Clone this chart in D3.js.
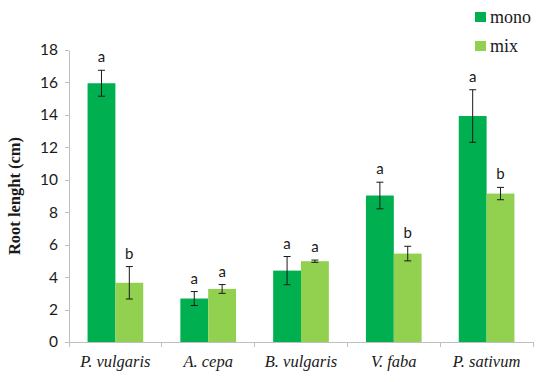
<!DOCTYPE html>
<html>
<head>
<meta charset="utf-8">
<script src="https://cdn.jsdelivr.net/npm/d3@7"></script>
<style>
  body { margin: 0; background: #fff; }
  svg { display: block; }
</style>
</head>
<body>
<div id="chart"></div>
<script>
// data
var species = ['P. vulgaris', 'A. cepa', 'B. vulgaris', 'V. faba', 'P. sativum'];
var monoValues = [15.95, 2.68, 4.4, 9.03, 13.93];
var monoErrors = [0.8, 0.43, 0.87, 0.82, 1.62];
var monoLetters = ['a', 'a', 'a', 'a', 'a'];
var mixValues = [3.65, 3.27, 4.98, 5.45, 9.15];
var mixErrors = [1.0, 0.27, 0.07, 0.45, 0.38];
var mixLetters = ['b', 'a', 'a', 'b', 'b'];
var yTicks = [0, 2, 4, 6, 8, 10, 12, 14, 16, 18];

var series = [
  { name: 'mono', color: '#00b050', values: monoValues, errors: monoErrors, letters: monoLetters },
  { name: 'mix', color: '#92d050', values: mixValues, errors: mixErrors, letters: mixLetters }
];

var width = 550, height = 382;
var margin = { top: 50, right: 17, bottom: 40, left: 69 };
var innerW = width - margin.left - margin.right;
var innerH = height - margin.top - margin.bottom;

var svg = d3.select('#chart').append('svg')
  .attr('width', width)
  .attr('height', height);

var g = svg.append('g')
  .attr('transform', 'translate(' + margin.left + ',' + margin.top + ')');

var x = d3.scaleBand()
  .domain(species)
  .range([0, innerW])
  .paddingInner(0.4)
  .paddingOuter(0.2);

var xInner = d3.scaleBand()
  .domain(series.map(function (s) { return s.name; }))
  .range([0, x.bandwidth()]);

var y = d3.scaleLinear()
  .domain([0, 18])
  .range([innerH, 0]);

var axisColor = '#bfbfbf';

// y axis
var gy = g.append('g')
  .call(d3.axisLeft(y).tickValues(yTicks).tickSizeInner(4).tickSizeOuter(0).tickPadding(7));
gy.selectAll('line, path').attr('stroke', axisColor).attr('shape-rendering', 'crispEdges');
gy.selectAll('text')
  .style('font-family', 'Lato, "Open Sans", sans-serif')
  .style('font-size', '15.5px')
  .attr('fill', '#1a1a1a');

// x axis: ticks at band boundaries
var step = x.step();
var boundaries = d3.range(species.length + 1).map(function (i) { return i * step; });
var gx = g.append('g').attr('transform', 'translate(0,' + innerH + ')');
gx.append('line')
  .attr('x1', 0).attr('x2', innerW)
  .attr('stroke', axisColor).attr('shape-rendering', 'crispEdges');
gx.selectAll('.tk').data(boundaries).enter().append('line')
  .attr('class', 'tk')
  .attr('x1', function (d) { return d; }).attr('x2', function (d) { return d; })
  .attr('y1', 0).attr('y2', 5)
  .attr('stroke', axisColor).attr('shape-rendering', 'crispEdges');
gx.selectAll('.lbl').data(species).enter().append('text')
  .attr('class', 'lbl')
  .attr('x', function (d) { return x(d) + x.bandwidth() / 2; })
  .attr('y', 25)
  .attr('text-anchor', 'middle')
  .style('font-family', '"Liberation Serif", serif')
  .style('font-style', 'italic')
  .style('font-size', '16.5px')
  .attr('fill', '#1a1a1a')
  .text(function (d) { return d; });

// y label
g.append('text')
  .attr('transform', 'translate(' + (14 - margin.left) + ',' + (innerH / 2) + ') rotate(-90)')
  .attr('text-anchor', 'middle')
  .attr('dy', '0.35em')
  .style('font-family', '"Liberation Serif", serif')
  .style('font-weight', 'bold')
  .style('font-size', '16.5px')
  .attr('fill', '#1a1a1a')
  .text('Root lenght (cm)');

// bars
series.forEach(function (s) {
  var grp = g.append('g');
  var items = species.map(function (sp, i) {
    return { sp: sp, v: s.values[i], e: s.errors[i], l: s.letters[i] };
  });
  var cx = function (d) { return x(d.sp) + xInner(s.name) + xInner.bandwidth() / 2; };

  grp.selectAll('rect').data(items).enter().append('rect')
    .attr('x', function (d) { return x(d.sp) + xInner(s.name); })
    .attr('y', function (d) { return y(d.v); })
    .attr('width', xInner.bandwidth())
    .attr('height', function (d) { return innerH - y(d.v); })
    .attr('fill', s.color);

  var err = grp.selectAll('.err').data(items).enter().append('g')
    .attr('class', 'err')
    .attr('stroke', '#1a1a1a')
    .attr('stroke-width', 1);
  err.append('line')
    .attr('x1', cx).attr('x2', cx)
    .attr('y1', function (d) { return y(d.v + d.e); })
    .attr('y2', function (d) { return y(d.v - d.e); });
  err.append('line')
    .attr('x1', function (d) { return cx(d) - 3.5; }).attr('x2', function (d) { return cx(d) + 3.5; })
    .attr('y1', function (d) { return y(d.v + d.e); }).attr('y2', function (d) { return y(d.v + d.e); });
  err.append('line')
    .attr('x1', function (d) { return cx(d) - 3.5; }).attr('x2', function (d) { return cx(d) + 3.5; })
    .attr('y1', function (d) { return y(d.v - d.e); }).attr('y2', function (d) { return y(d.v - d.e); });

  grp.selectAll('.ltr').data(items).enter().append('text')
    .attr('class', 'ltr')
    .attr('x', cx)
    .attr('y', function (d) { return y(d.v + d.e) - 8; })
    .attr('text-anchor', 'middle')
    .style('font-family', 'Lato, "Open Sans", sans-serif')
    .style('font-size', '15px')
    .attr('fill', '#1a1a1a')
    .text(function (d) { return d.l; });
});

// legend
var legend = svg.append('g').attr('transform', 'translate(475,12)');
var li = legend.selectAll('g').data(series).enter().append('g')
  .attr('transform', function (d, i) { return 'translate(0,' + (i * 29) + ')'; });
li.append('rect').attr('width', 11).attr('height', 10).attr('fill', function (d) { return d.color; });
li.append('text')
  .attr('x', 15).attr('y', 5).attr('dy', '0.35em')
  .style('font-family', '"Liberation Serif", serif')
  .style('font-size', '18px')
  .attr('fill', '#1a1a1a')
  .text(function (d) { return d.name; });
</script>
</body>
</html>
